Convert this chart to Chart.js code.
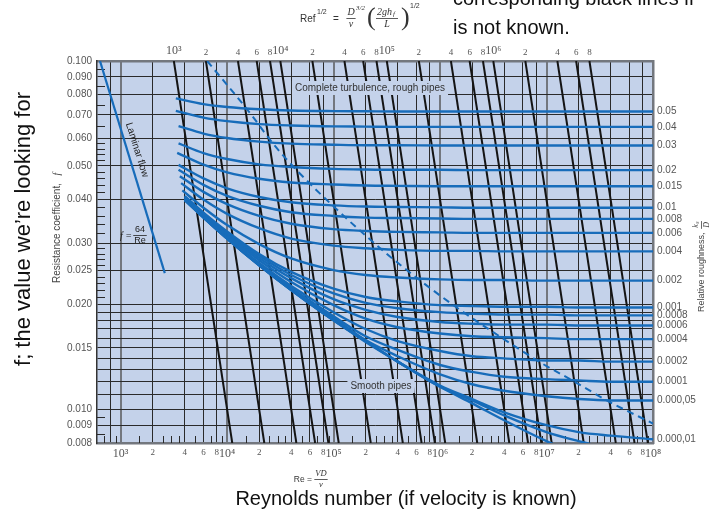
<!DOCTYPE html>
<html>
<head>
<meta charset="utf-8">
<script src="https://cdn.jsdelivr.net/npm/chart.js@4.4.1/dist/chart.umd.min.js"></script>
<style>
  html, body { margin: 0; padding: 0; background: #fff; }
  canvas { display: block; }
</style>
</head>
<body>
<canvas id="moody" width="711" height="512"></canvas>
<script>
// ---- data ----
const reMin = 600, reMax = 1e8
const fMin = 0.008, fMax = 0.1

// x grid / tick labels (Reynolds number)
const xGridValues = [800, 1e3, 2e3, 4e3, 6e3, 8e3, 1e4, 2e4, 4e4, 6e4, 8e4, 1e5, 2e5, 4e5, 6e5, 8e5,
  1e6, 2e6, 4e6, 6e6, 8e6, 1e7, 2e7, 4e7, 6e7, 8e7, 1e8]
const xTickLabels = ['', '10³', '2', '4', '6', '8', '10⁴', '2', '4', '6', '8', '10⁵', '2', '4', '6', '8',
  '10⁶', '2', '4', '6', '8', '10⁷', '2', '4', '6', '8', '10⁸']
const xMinorTicks = [700, 900, 1500, 2500, 3000, 3500, 5000, 7000, 9000,
  15000, 25000, 30000, 35000, 50000, 70000, 90000,
  150000, 250000, 300000, 350000, 500000, 700000, 900000,
  1.5e6, 2.5e6, 3e6, 3.5e6, 5e6, 7e6, 9e6,
  1.5e7, 2.5e7, 3e7, 3.5e7, 5e7, 7e7, 9e7]

// y grid / tick labels (resistance coefficient f)
const yGridValues = [0.1, 0.09, 0.08, 0.07, 0.06, 0.05, 0.04, 0.03, 0.025, 0.02, 0.019, 0.018, 0.017,
  0.016, 0.015, 0.014, 0.013, 0.012, 0.011, 0.01, 0.009, 0.008]
const yTickLabels = ['0.100', '0.090', '0.080', '0.070', '0.060', '0.050', '0.040', '0.030', '0.025',
  '0.020', '', '', '', '', '0.015', '', '', '', '', '0.010', '0.009', '0.008']
const yMinorTicks = [0.095, 0.085, 0.075, 0.065, 0.058, 0.056, 0.054, 0.052, 0.048, 0.046, 0.044, 0.042,
  0.038, 0.036, 0.034, 0.032, 0.029, 0.028, 0.027, 0.026, 0.024, 0.023, 0.022, 0.021, 0.0095, 0.0085]

// top axis: Re f^1/2
const refAxisMin = 189.7, refAxisMax = 3.162e7
const refValues = [1e3, 2e3, 4e3, 6e3, 8e3, 1e4, 2e4, 4e4, 6e4, 8e4, 1e5, 2e5, 4e5, 6e5, 8e5,
  1e6, 2e6, 4e6, 6e6, 8e6]
const refLabels = ['10³', '2', '4', '6', '8', '10⁴', '2', '4', '6', '8', '10⁵', '2', '4', '6', '8',
  '10⁶', '2', '4', '6', '8']
// Re where each black line meets the top (f = 0.1) and the bottom (f = 0.008)
const refTopRe = [3162, 6325, 12650, 18970, 25300, 31620, 63250, 126500, 189700, 253000, 316200,
  632500, 1265000, 1897000, 2530000, 3162000, 6325000, 12650000, 18970000, 25300000]
const refBottomRe = [11180, 22360, 44720, 67080, 89440, 111800, 223600, 447200, 670800, 894400,
  1118000, 2236000, 4472000, 6708000, 8944000, 11180000, 22360000, 44720000, 67080000, 89440000]

// relative roughness curves
const roughLabels = ['0.05', '0.04', '0.03', '0.02', '0.015', '0.01', '0.008', '0.006', '0.004', '0.002',
  '0.001', '0.0008', '0.0006', '0.0004', '0.0002', '0.0001', '0.000,05', '0.000,01']
const roughStartRe = [3300, 3300, 3500, 3500, 3400, 3500, 3500, 3600, 3700, 3800,
  4000, 4000, 4000, 4000, 4000, 4000, 4000, 4000]
const roughStartF = [0.0781, 0.0719, 0.0650, 0.0580, 0.0545, 0.0503, 0.0487, 0.0467, 0.0446, 0.0425,
  0.0409, 0.0408, 0.0405, 0.0403, 0.0401, 0.0399, 0.0399, 0.0399]
const reSteps = [6e3, 1e4, 2e4, 4e4, 1e5, 2e5, 4e5, 1e6, 2e6, 4e6, 1e7, 2e7, 4e7, 1e8]
const roughF = [
  [0.0752, 0.0738, 0.0727, 0.0721, 0.0718, 0.0717, 0.0716, 0.0716, 0.0716, 0.0716, 0.0716, 0.0716, 0.0716, 0.0716],
  [0.0688, 0.0672, 0.0659, 0.0653, 0.0649, 0.0648, 0.0647, 0.0647, 0.0647, 0.0647, 0.0647, 0.0647, 0.0647, 0.0647],
  [0.0619, 0.0601, 0.0587, 0.0579, 0.0575, 0.0573, 0.0573, 0.0572, 0.0572, 0.0572, 0.0572, 0.0572, 0.0572, 0.0572],
  [0.0544, 0.0523, 0.0505, 0.0496, 0.0490, 0.0488, 0.0487, 0.0487, 0.0486, 0.0486, 0.0486, 0.0486, 0.0486, 0.0486],
  [0.0504, 0.0479, 0.0459, 0.0448, 0.0442, 0.0439, 0.0438, 0.0437, 0.0437, 0.0437, 0.0437, 0.0437, 0.0437, 0.0437],
  [0.0460, 0.0431, 0.0407, 0.0393, 0.0385, 0.0382, 0.0381, 0.0380, 0.0379, 0.0379, 0.0379, 0.0379, 0.0379, 0.0379],
  [0.0441, 0.0410, 0.0384, 0.0368, 0.0359, 0.0355, 0.0354, 0.0353, 0.0352, 0.0352, 0.0352, 0.0352, 0.0352, 0.0352],
  [0.0421, 0.0388, 0.0359, 0.0341, 0.0329, 0.0325, 0.0323, 0.0322, 0.0321, 0.0321, 0.0321, 0.0321, 0.0321, 0.0321],
  [0.0400, 0.0364, 0.0331, 0.0309, 0.0295, 0.0290, 0.0287, 0.0285, 0.0285, 0.0284, 0.0284, 0.0284, 0.0284, 0.0284],
  [0.0379, 0.0338, 0.0298, 0.0271, 0.0251, 0.0243, 0.0239, 0.0236, 0.0235, 0.0235, 0.0234, 0.0234, 0.0234, 0.0234],
  [0.0367, 0.0324, 0.0279, 0.0248, 0.0222, 0.0210, 0.0204, 0.0199, 0.0198, 0.0197, 0.0197, 0.0196, 0.0196, 0.0196],
  [0.0365, 0.0321, 0.0276, 0.0243, 0.0215, 0.0202, 0.0195, 0.0190, 0.0188, 0.0187, 0.0187, 0.0186, 0.0186, 0.0186],
  [0.0363, 0.0318, 0.0272, 0.0238, 0.0207, 0.0193, 0.0184, 0.0178, 0.0176, 0.0175, 0.0175, 0.0174, 0.0174, 0.0174],
  [0.0360, 0.0315, 0.0268, 0.0232, 0.0199, 0.0182, 0.0172, 0.0165, 0.0162, 0.0161, 0.0160, 0.0159, 0.0159, 0.0159],
  [0.0358, 0.0312, 0.0263, 0.0226, 0.0190, 0.0170, 0.0157, 0.0147, 0.0142, 0.0140, 0.0138, 0.0138, 0.0137, 0.0137],
  [0.0356, 0.0310, 0.0261, 0.0223, 0.0185, 0.0162, 0.0148, 0.0134, 0.0128, 0.0124, 0.0122, 0.0121, 0.0120, 0.0120],
  [0.0356, 0.0309, 0.0260, 0.0221, 0.0183, 0.0158, 0.0142, 0.0126, 0.0118, 0.0113, 0.0109, 0.0107, 0.0106, 0.0106],
  [0.0356, 0.0309, 0.0259, 0.0220, 0.0180, 0.0157, 0.0137, 0.0117, 0.0107, 0.0098, 0.0090, 0.0086, 0.0084, 0.0082]
]
// unlabeled 0.000,005 curve and smooth pipes
const fineStart = [4000, 0.0399]
const fineF = [0.0355, 0.0309, 0.0259, 0.0220, 0.0180, 0.0157, 0.0137, 0.0116, 0.0106, 0.0096, 0.0086, 0.0081, 0.0077, null]
const smoothStart = [4000, 0.0399]
const smoothF = [0.0355, 0.0309, 0.0259, 0.0220, 0.0180, 0.0156, 0.0137, 0.0116, 0.0104, 0.0093, 0.0081, 0.0074, null, null]

// laminar flow f = 64/Re
const laminarRe = [640, 2600]
const laminarF = [0.1, 0.0246]

// dashed boundary of complete turbulence
const dashedRe = [6500, 16000, 27900, 45000, 103000, 297000, 654000, 1.43e6, 3.97e6, 8.5e6, 1.83e7, 3.9e7, 1e8]
const dashedF = [0.1, 0.0716, 0.0572, 0.0486, 0.0379, 0.0284, 0.0234, 0.0196, 0.0159, 0.0137, 0.0120, 0.0105, 0.0091]

// ---- styles ----
const plotBg = "rgb(196,210,234)"
const blue = "#176cba"
const black = "#141414"
const gridDark = "#2a2a2a"
const gridGray = "#73777e"
const labelGray = "#555"
const sans = '"Liberation Sans", Arial, sans-serif'
const serif = '"Liberation Serif", "Times New Roman", serif'

const points = (re, f) => re.map((x, i) => ({ x, y: f[i] }))

const datasets = []

roughLabels.forEach((lab, i) => {
  datasets.push({
    label: "k/D " + lab,
    data: [{ x: roughStartRe[i], y: roughStartF[i] }, ...points(reSteps, roughF[i])],
    borderColor: blue, borderWidth: 2.4,
    cubicInterpolationMode: "monotone", order: 1
  })
})
datasets.push({
  label: "0.000,005",
  data: [{ x: fineStart[0], y: fineStart[1] }, ...points(reSteps, fineF)],
  borderColor: blue, borderWidth: 2.4, cubicInterpolationMode: "monotone", order: 1
})
datasets.push({
  label: "Smooth pipes",
  data: [{ x: smoothStart[0], y: smoothStart[1] }, ...points(reSteps, smoothF)],
  borderColor: blue, borderWidth: 2.4, cubicInterpolationMode: "monotone", order: 1
})
datasets.push({
  label: "Laminar flow",
  data: points(laminarRe, laminarF),
  borderColor: blue, borderWidth: 2.2, order: 1
})
datasets.push({
  label: "Complete turbulence",
  data: points(dashedRe, dashedF),
  borderColor: blue, borderWidth: 2, borderDash: [7, 5],
  cubicInterpolationMode: "monotone", order: 2
})
refValues.forEach((k, i) => {
  datasets.push({
    label: "Ref " + k,
    data: [{ x: refTopRe[i], y: fMax }, { x: refBottomRe[i], y: fMin }],
    borderColor: black, borderWidth: 2, order: 3
  })
})

const roughEndF = roughF.map(r => r[r.length - 1])
const isDecade = s => s && s.startsWith("10")

function labelBox(ctx, text, cx, cy, font) {
  ctx.save()
  ctx.font = font
  const w = ctx.measureText(text).width
  ctx.fillStyle = plotBg
  ctx.fillRect(cx - w / 2 - 3, cy - 7, w + 6, 14)
  ctx.fillStyle = "#333"
  ctx.textAlign = "center"
  ctx.textBaseline = "middle"
  ctx.fillText(text, cx, cy)
  ctx.restore()
}

function fraction(ctx, num, den, cx, barY, font, color) {
  ctx.save()
  ctx.font = font
  ctx.fillStyle = color
  ctx.strokeStyle = color
  ctx.textAlign = "center"
  const w = Math.max(ctx.measureText(num).width, ctx.measureText(den).width) + 2
  ctx.textBaseline = "bottom"
  ctx.fillText(num, cx, barY - 1)
  ctx.textBaseline = "top"
  ctx.fillText(den, cx, barY + 1.5)
  ctx.lineWidth = 0.8
  ctx.beginPath()
  ctx.moveTo(cx - w / 2, barY + 0.5)
  ctx.lineTo(cx + w / 2, barY + 0.5)
  ctx.stroke()
  ctx.restore()
}

const notes = {
  id: "notes",
  beforeDraw(chart) {
    const { ctx, chartArea: a } = chart
    ctx.save()
    ctx.fillStyle = "#fff"
    ctx.fillRect(0, 0, chart.width, chart.height)
    ctx.fillStyle = plotBg
    ctx.fillRect(a.left, a.top, a.right - a.left, a.bottom - a.top)
    ctx.restore()
  },
  beforeDatasetsDraw(chart) {
    const { ctx, chartArea: a, scales } = chart
    ctx.save()
    ctx.strokeStyle = gridDark
    ctx.lineWidth = 1
    ctx.beginPath()
    xMinorTicks.forEach(v => {
      const x = Math.round(scales.x.getPixelForValue(v)) + 0.5
      ctx.moveTo(x, a.bottom)
      ctx.lineTo(x, a.bottom - 7)
    })
    yMinorTicks.forEach(v => {
      const y = Math.round(scales.y.getPixelForValue(v)) + 0.5
      ctx.moveTo(a.left, y)
      ctx.lineTo(a.left + 8, y)
    })
    ctx.stroke()
    ctx.restore()
  },
  afterDatasetsDraw(chart) {
    const { ctx } = chart
    labelBox(ctx, "Complete turbulence, rough pipes", 370, 88, "10px " + sans)
    labelBox(ctx, "Smooth pipes", 381, 386, "10px " + sans)

    ctx.save()
    ctx.translate(137, 150)
    ctx.rotate(72.5 * Math.PI / 180)
    ctx.font = "10px " + sans
    ctx.fillStyle = "#222"
    ctx.textAlign = "center"
    ctx.textBaseline = "middle"
    ctx.fillText("Laminar flow", 0, 0)
    ctx.restore()

    ctx.save()
    ctx.font = "italic 10px " + serif
    ctx.fillStyle = "#222"
    ctx.textAlign = "right"
    ctx.textBaseline = "middle"
    ctx.fillText("f =", 132, 236)
    ctx.restore()
    fraction(ctx, "64", "Re", 140, 235, "9px " + sans, "#222")
  },
  afterDraw(chart) {
    const { ctx } = chart
    ctx.save()
    ctx.fillStyle = "#111"
    ctx.font = "20px " + sans
    ctx.textBaseline = "alphabetic"
    ctx.textAlign = "left"
    ctx.fillText("corresponding black lines if", 453, 5)
    ctx.fillText("is not known.", 453, 34)
    ctx.textAlign = "center"
    ctx.fillText("Reynolds number (if velocity is known)", 406, 505)

    ctx.save()
    ctx.translate(24, 229)
    ctx.rotate(-Math.PI / 2)
    ctx.font = "22px " + sans
    ctx.textBaseline = "middle"
    ctx.fillText("f; the value we\u2019re looking for", 0, 0)
    ctx.restore()

    // left axis title
    ctx.save()
    ctx.translate(57, 228)
    ctx.rotate(-Math.PI / 2)
    ctx.fillStyle = "#444"
    ctx.font = "10px " + sans
    ctx.textBaseline = "middle"
    ctx.textAlign = "center"
    ctx.fillText("Resistance coefficient,", -5, 0)
    ctx.font = "italic 10px " + serif
    ctx.fillText("f", 54, 0)
    ctx.restore()

    // right axis title
    ctx.save()
    ctx.translate(702, 312)
    ctx.rotate(-Math.PI / 2)
    ctx.fillStyle = "#444"
    ctx.font = "9px " + sans
    ctx.textBaseline = "middle"
    ctx.textAlign = "left"
    ctx.fillText("Relative roughness,", 0, 0)
    const tw = ctx.measureText("Relative roughness, ").width
    ctx.restore()
    ctx.save()
    ctx.translate(702, 312 - tw - 5)
    ctx.rotate(-Math.PI / 2)
    fraction(ctx, "k\u209B", "D", 0, -1, "italic 8px " + serif, "#444")
    ctx.restore()

    // bottom formula Re = VD/nu
    ctx.fillStyle = "#333"
    ctx.font = "8.5px " + sans
    ctx.textAlign = "right"
    ctx.textBaseline = "middle"
    ctx.fillText("Re =", 312, 480)
    fraction(ctx, "VD", "\u03BD", 321, 479, "italic 8.5px " + serif, "#333")

    // top formula Re f^1/2 = D^3/2/nu (2 g h_f / L)^1/2
    ctx.textAlign = "left"
    ctx.font = "10px " + sans
    ctx.fillText("Ref", 300, 19)
    ctx.font = "7px " + sans
    ctx.fillText("1/2", 317, 12)
    ctx.font = "10px " + sans
    ctx.fillText("=", 333, 19)
    fraction(ctx, "D", "\u03BD", 351, 18, "italic 10px " + serif, "#333")
    ctx.font = "italic 7px " + serif
    ctx.fillText("3/2", 356, 8)
    ctx.font = "26px " + serif
    ctx.fillText("(", 367, 18)
    ctx.fillText(")", 401, 18)
    fraction(ctx, "2gh  ", "L", 387, 18, "italic 10px " + serif, "#333")
    ctx.font = "italic 7px " + serif
    ctx.fillText("f", 393, 14)
    ctx.font = "7px " + sans
    ctx.fillText("1/2", 410, 6)
    ctx.restore()
  }
}

new Chart(document.getElementById("moody"), {
  type: "line",
  data: { datasets },
  plugins: [notes],
  options: {
    responsive: false,
    devicePixelRatio: 1,
    animation: false,
    parsing: true,
    elements: { point: { radius: 0, hoverRadius: 0 }, line: { tension: 0 } },
    layout: { padding: 0 },
    plugins: { legend: { display: false }, tooltip: { enabled: false } },
    scales: {
      x: {
        type: "logarithmic", position: "bottom", min: reMin, max: reMax,
        afterBuildTicks: s => { s.ticks = xGridValues.map(value => ({ value })) },
        afterFit: s => { s.height = 69 },
        ticks: {
          autoSkip: false, maxRotation: 0, padding: 4, color: labelGray,
          callback: (v, i) => xTickLabels[i],
          font: c => ({ family: serif, size: isDecade(xTickLabels[c.index]) ? 12 : 9 })
        },
        grid: {
          drawTicks: false,
          color: c => isDecade(xTickLabels[c.index]) ? gridGray : gridDark,
          lineWidth: c => isDecade(xTickLabels[c.index]) ? 2 : 1
        },
        border: { color: gridGray, width: 2.5 }
      },
      xRef: {
        type: "logarithmic", position: "top", min: refAxisMin, max: refAxisMax,
        afterBuildTicks: s => { s.ticks = refValues.map(value => ({ value })) },
        afterFit: s => { s.height = 61 },
        ticks: {
          autoSkip: false, maxRotation: 0, padding: 3, color: labelGray,
          callback: (v, i) => refLabels[i],
          font: c => ({ family: serif, size: isDecade(refLabels[c.index]) ? 12 : 9 })
        },
        grid: { drawOnChartArea: false, drawTicks: false },
        border: { color: gridGray, width: 2.5 }
      },
      y: {
        type: "logarithmic", position: "left", min: fMin, max: fMax,
        afterBuildTicks: s => { s.ticks = yGridValues.map(value => ({ value })) },
        afterFit: s => { s.width = 97 },
        ticks: {
          autoSkip: false, padding: 5, color: labelGray,
          callback: (v, i) => yTickLabels[i],
          font: { family: sans, size: 10 }
        },
        grid: { drawTicks: false, color: gridDark, lineWidth: 1 },
        border: { color: "#333", width: 1.5 }
      },
      yRough: {
        type: "logarithmic", position: "right", min: fMin, max: fMax,
        afterBuildTicks: s => { s.ticks = roughEndF.map(value => ({ value })) },
        afterFit: s => { s.width = 58 },
        ticks: {
          autoSkip: false, padding: 4, color: labelGray,
          callback: (v, i) => roughLabels[i],
          font: { family: sans, size: 10 }
        },
        grid: { drawOnChartArea: false, drawTicks: false },
        border: { color: gridGray, width: 2.5 }
      }
    }
  }
})
</script>
</body>
</html>
